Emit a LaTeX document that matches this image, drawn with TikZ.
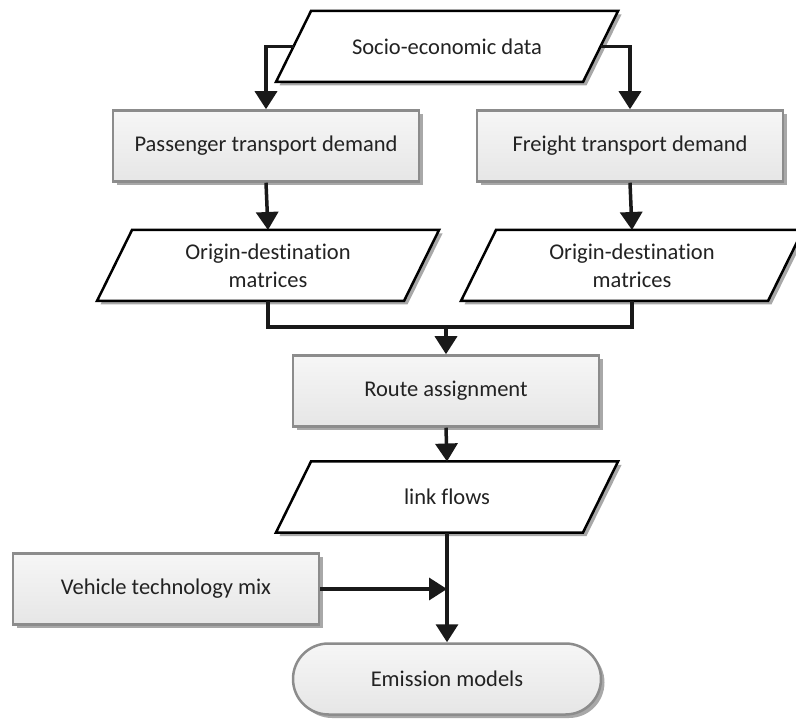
\documentclass[tikz,border=0pt]{standalone}
\usepackage{fontspec}
\setmainfont{Carlito}[Ligatures=NoCommon]
\usetikzlibrary{shapes.misc,arrows.meta,shadows,backgrounds}
\definecolor{bordergray}{HTML}{8C8C8C}
\definecolor{shadowgray}{HTML}{A8A8A8}
\definecolor{txt}{HTML}{222222}
\definecolor{boxtop}{HTML}{F6F6F6}
\definecolor{boxbot}{HTML}{E6E6E6}
\tikzset{
  sh/.style={drop shadow={shadow xshift=3.5pt, shadow yshift=-3.5pt, fill=shadowgray, opacity=1}},
  lbl/.style={text=txt, font=\fontsize{22.5}{28}\selectfont, align=center, inner sep=0pt},
  procbox/.style={rectangle, draw=bordergray, line width=2.5pt, top color=boxtop, bottom color=boxbot,
    minimum width=306pt, minimum height=71pt, sh, lbl},
  databox/.style={rectangle, minimum width=307pt, minimum height=71pt, outer sep=0pt, lbl},
  paraline/.style={draw=black, line width=2.5pt, fill=white, line join=miter, sh},
  termbox/.style={rounded rectangle, draw=bordergray, line width=2.5pt, top color=boxtop, bottom color=boxbot,
    minimum width=308pt, minimum height=71pt, sh, lbl},
  lin/.style={line width=3.5pt, draw=black!90},
  arr/.style={lin, -{Triangle[length=18pt,width=22pt]}},
}
\newcommand{\drawpara}[1]{%
  \begin{scope}[on background layer]
    \path[paraline] ([xshift=-17.5pt]#1.south west) -- ([xshift=-17.5pt]#1.south east)
      -- ([xshift=17.5pt]#1.north east) -- ([xshift=17.5pt]#1.north west) -- cycle;
  \end{scope}}
\begin{document}
\begin{tikzpicture}[x=1pt,y=-1pt]
  \useasboundingbox (0,0) rectangle (796,719);
  \node[databox] (socio) at (447,46.5) {Socio-economic data};
  \node[procbox] (pass) at (266,146) {Passenger transport demand};
  \node[procbox] (freight) at (630,146) {Freight transport demand};
  \node[databox] (odl) at (268,265.5) {Origin-destination\\matrices};
  \node[databox] (odr) at (632,265.5) {Origin-destination\\matrices};
  \node[procbox] (route) at (446,391) {Route assignment};
  \node[databox] (link) at (447,497) {link flows};
  \node[procbox] (veh) at (166,589) {Vehicle technology mix};
  \node[termbox] (emis) at (447,679) {Emission models};
  \drawpara{socio}
  \drawpara{odl}
  \drawpara{odr}
  \drawpara{link}
  \coordinate (join) at (446,327);

  \draw[arr] (socio.west) -| (pass.north);
  \draw[arr] (socio.east) -| (freight.north);
  \draw[arr] (pass.south) -- (odl.north);
  \draw[arr] (freight.south) -- (odr.north);
  \draw[lin] (odl.south) |- (join) -| (odr.south);
  \draw[arr] (join) -- (route.north);
  \draw[arr] (route.south) -- (link.north);
  \draw[arr] (link.south) -- (emis.north);
  \draw[arr] (veh.east) -- (veh.east -| link.south);
\end{tikzpicture}
\end{document}
